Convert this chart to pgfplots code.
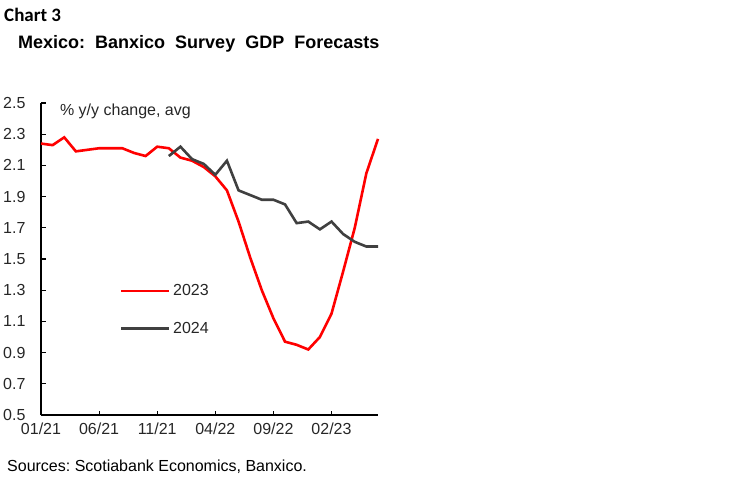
\documentclass[border=0pt]{standalone}
\usepackage{fontspec}
\setmainfont{Liberation Sans}
\newfontfamily\carlito{Carlito}
\usepackage{pgfplots}
\pgfplotsset{compat=1.18}
\definecolor{redline}{RGB}{255,0,0}
\definecolor{greyline}{RGB}{64,64,64}
\frenchspacing
\begin{document}
\begin{tikzpicture}
\path[use as bounding box] (0,0) rectangle (750pt,-483pt);
\node[anchor=base west, inner sep=0pt, font=\carlito\bfseries\fontsize{19}{22}\selectfont] at (4pt,-21.7pt) {Chart 3};
\node[anchor=base west, inner sep=0pt, font=\bfseries\fontsize{18}{22}\selectfont] at (18pt,-48pt) {Mexico:\ \ Banxico\ \ Survey\ \ GDP\ \ Forecasts};
\node[anchor=base west, inner sep=0pt, font=\fontsize{16}{19}\selectfont] at (7pt,-471pt) {Sources: Scotiabank Economics, Banxico.};
\begin{axis}[
    at={(41pt,-415pt)}, anchor=south west,
    scale only axis,
    width=337pt, height=312pt,
    xmin=0, xmax=29,
    ymin=0.5, ymax=2.5,
    axis x line*=bottom,
    axis y line*=left,
    axis line style={line width=1.6pt, black},
    tick style={line width=1.2pt, black},
    tick align=inside,
    major tick length=4.5pt,
    xtick={0,5,10,15,20,25},
    xticklabels={01/21,06/21,11/21,04/22,09/22,02/23},
    ytick={0.5,0.7,0.9,1.1,1.3,1.5,1.7,1.9,2.1,2.3,2.5},
    yticklabel style={/pgf/number format/.cd, fixed, fixed zerofill, precision=1},
    /pgf/number format/assume math mode=true,
    ticklabel style={font=\fontsize{16}{19}\selectfont, text=black!85},
    every x tick label/.style={yshift=-4pt},
    every y tick label/.style={xshift=-12pt},
    legend style={draw=none, fill=none, font=\fontsize{16}{19}\selectfont,
        at={(0.234,0.427)}, anchor=north west, row sep=20pt,
        inner sep=0pt, nodes={inner sep=2.5pt, text=black!85}},
    legend cell align=left,
    legend image code/.code={\draw[#1] (0pt,0pt) -- (48pt,0pt);},
    clip=false,
]
\addplot[redline, line width=2.6pt] coordinates {
    (0,2.24) (1,2.23) (2,2.28) (3,2.19) (4,2.20) (5,2.21) (6,2.21)
    (7,2.21) (8,2.18) (9,2.16) (10,2.22) (11,2.21) (12,2.15) (13,2.13)
    (14,2.09) (15,2.03) (16,1.94) (17,1.74) (18,1.51) (19,1.30) (20,1.12)
    (21,0.97) (22,0.95) (23,0.92) (24,1.00) (25,1.15) (26,1.42) (27,1.70)
    (28,2.05) (29,2.27)
};
\addlegendentry{2023}
\addplot[greyline, line width=2.6pt] coordinates {
    (11,2.16) (12,2.22) (13,2.14) (14,2.11) (15,2.04) (16,2.13) (17,1.94)
    (18,1.91) (19,1.88) (20,1.88) (21,1.85) (22,1.73) (23,1.74) (24,1.69)
    (25,1.74) (26,1.66) (27,1.61) (28,1.58) (29,1.58)
};
\addlegendentry{2024}
\node[anchor=base west, inner sep=0pt, font=\fontsize{16}{19}\selectfont, text=black!85] at (rel axis cs:0.056,0.959) {\% y/y change, avg};
\end{axis}
\end{tikzpicture}
\end{document}
